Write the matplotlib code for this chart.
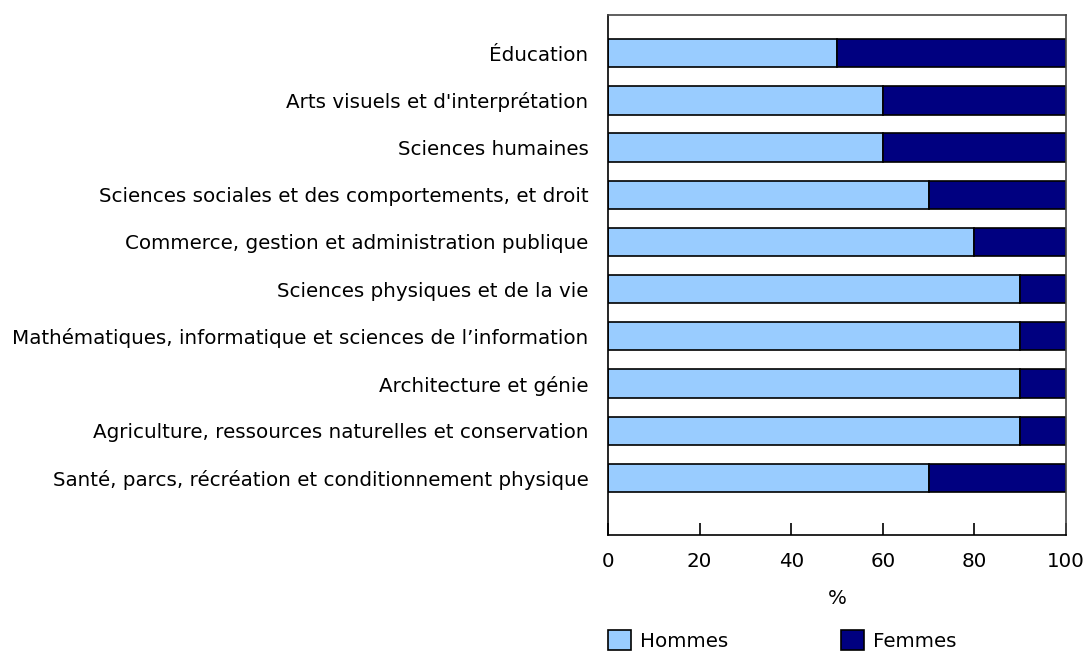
import matplotlib.pyplot as plt
import numpy as np

# fields of study, top to bottom
fields = [
    "Éducation",
    "Arts visuels et d'interprétation",
    "Sciences humaines",
    "Sciences sociales et des comportements, et droit",
    "Commerce, gestion et administration publique",
    "Sciences physiques et de la vie",
    "Mathématiques, informatique et sciences de l\u2019information",
    "Architecture et génie",
    "Agriculture, ressources naturelles et conservation",
    "Santé, parcs, récréation et conditionnement physique",
]
hommes = [50, 60, 60, 70, 80, 90, 90, 90, 90, 70]
femmes = [50, 40, 40, 30, 20, 10, 10, 10, 10, 30]

light = "#99CCFF"
dark = "#000080"
fs = 14.3

plt.rcParams['font.family'] = ['DejaVu Sans']
fig = plt.figure(figsize=(10.85, 6.54), dpi=100)
ax = fig.add_axes([608 / 1085, 1 - 535 / 654, (1066 - 608) / 1085, (535 - 15) / 654])

y = np.arange(len(fields))
ax.barh(y, hommes, height=0.6, color=light, edgecolor="black", linewidth=1.2, label="Hommes")
ax.barh(y, femmes, left=hommes, height=0.6, color=dark, edgecolor="black", linewidth=1.2, label="Femmes")

ax.set_xlim(0, 100)
ax.set_ylim(len(fields) - 1 + 1.21, -0.81)
ax.set_yticks(y)
ax.set_yticklabels(fields, fontsize=fs)
ax.tick_params(axis='y', length=0, pad=14)
ax.set_xticks([0, 20, 40, 60, 80, 100])
ax.tick_params(axis='x', direction='in', length=9, width=1.2, labelsize=fs, pad=12)
ax.set_xlabel("%", fontsize=fs, labelpad=13)
for s in ax.spines.values():
    s.set_linewidth(1.2)
ax.spines['top'].set_color('#444444')
ax.spines['right'].set_color('#444444')

handles, labels = ax.get_legend_handles_labels()
fig.legend(handles, labels, loc='lower left', bbox_to_anchor=(590 / 1085, -0.022),
           ncol=2, frameon=False, fontsize=fs, handlelength=1.15, handleheight=1.15,
           handletextpad=0.45, columnspacing=5.7)

fig.savefig("out.png", dpi=100)
